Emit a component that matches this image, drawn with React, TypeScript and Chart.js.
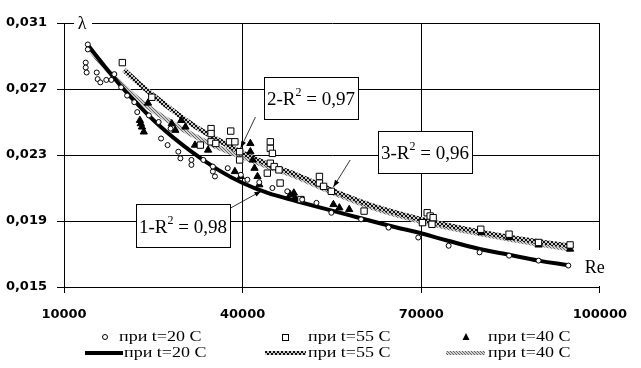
import React, { useEffect, useRef } from "react";
import { Chart, registerables } from "chart.js";

Chart.register(...registerables);

// ---------- tick labels ----------
const xTicks = [10000, 40000, 70000, 100000];
const yTicks = [0.015, 0.019, 0.023, 0.027, 0.031];

// ---------- measured points: t = 20 C (open circles) ----------
const re20 = [14000, 14000, 13650, 13650, 13800, 15500, 15650, 17100, 16100, 18450, 17950, 19600, 20600, 21800, 22300, 24250, 25900, 26300, 27400, 27900, 29200, 29550, 31400, 31400, 33400, 35000, 35350, 35000, 37500, 39700, 40800, 42800, 45000, 47500, 50000, 52400, 54900, 59900, 64500, 69500, 74600, 79800, 84750, 89700, 94700];
const lam20 = [0.0297, 0.0294, 0.0286, 0.0283, 0.028, 0.028, 0.0276, 0.02755, 0.0274, 0.0279, 0.02755, 0.0271, 0.0266, 0.0262, 0.0256, 0.0254, 0.025, 0.024, 0.0236, 0.0246, 0.0232, 0.0228, 0.0227, 0.0224, 0.0227, 0.022, 0.0217, 0.0223, 0.0222, 0.0218, 0.0215, 0.02135, 0.021, 0.0208, 0.0203, 0.0201, 0.0195, 0.0191, 0.0186, 0.018, 0.0175, 0.0171, 0.0169, 0.0166, 0.0163];

// ---------- measured points: t = 55 C (open squares) ----------
const re55 = [19800, 24750, 32900, 34700, 34700, 34700, 35500, 38000, 37800, 38700, 39500, 39500, 44650, 44650, 45000, 44650, 45300, 46100, 44150, 46300, 52900, 52900, 53600, 54900, 49800, 60400, 71000, 71500, 72000, 70200, 71800, 80000, 84750, 89700, 95000];
const lam55 = [0.0286, 0.0265, 0.0236, 0.0246, 0.0243, 0.0238, 0.0237, 0.02445, 0.0238, 0.0238, 0.0232, 0.0227, 0.0238, 0.0234, 0.0231, 0.0225, 0.0223, 0.0221, 0.0219, 0.0213, 0.0217, 0.0213, 0.0211, 0.0208, 0.0203, 0.0196, 0.0195, 0.0193, 0.0192, 0.0189, 0.0188, 0.0185, 0.0182, 0.0177, 0.01755];

// ---------- measured points: t = 40 C (filled triangles) ----------
const re40 = [24100, 22750, 23100, 23400, 22900, 28100, 29700, 30400, 28700, 32000, 34200, 38700, 39700, 41300, 41300, 41700, 42000, 42500, 42800, 48000, 48600, 48800, 55250, 56250, 57900, 80100, 84750, 89700, 95000];
const lam40 = [0.02615, 0.0251, 0.0247, 0.0244, 0.0249, 0.0249, 0.0251, 0.0247, 0.0245, 0.0236, 0.0233, 0.022, 0.0217, 0.0237, 0.0232, 0.0227, 0.0222, 0.0217, 0.0212, 0.0206, 0.0207, 0.0204, 0.02, 0.0198, 0.0197, 0.0183, 0.018, 0.01755, 0.0173];

// ---------- fitted curves ----------
const fitRe20 = [14000, 17600, 20900, 25900, 31400, 35900, 40000, 44200, 49100, 57400, 65700, 69500, 74500, 79800, 84750, 89700, 94700];
const fitLam20 = [0.02967, 0.02803, 0.02664, 0.02482, 0.0232, 0.0221, 0.0213, 0.0207, 0.0202, 0.0194, 0.01862, 0.0183, 0.0178, 0.0173, 0.01695, 0.0166, 0.01632];

const fitRe55 = [20100, 22900, 26200, 31400, 35900, 40000, 45000, 49100, 55700, 62400, 69700, 77300, 85600, 95000];
const fitLam55 = [0.02815, 0.02724, 0.02627, 0.02488, 0.02391, 0.02312, 0.02233, 0.02179, 0.02076, 0.01985, 0.01912, 0.01852, 0.01797, 0.01749];

const fitRe40 = [14000, 17600, 22600, 28400, 34200, 40000, 45000, 49100, 55700, 62400, 69700, 77300, 85600, 95000];
const fitLam40 = [0.02955, 0.02803, 0.02633, 0.02488, 0.02373, 0.02288, 0.02221, 0.02167, 0.02064, 0.01973, 0.019, 0.0184, 0.01785, 0.0173];

// ---------- labels ----------
const seriesLabels = ["при t=20 C", "при t=55 C", "при t=40 C"];
const boxNums = ["1", "2", "3"];
const boxR2 = ["0,98", "0,97", "0,96"];
// box extents in data units
const boxRe0 = [22100, 43650, 62700];
const boxRe1 = [37850, 59390, 78450];
const boxLamTop = [0.02003, 0.02773, 0.02445];
const boxLamBot = [0.01743, 0.02518, 0.02191];
// arrows from box to curve
const arrowRe0 = [37850, 42150, 58070];
const arrowLam0 = [0.01976, 0.0253, 0.0227];
const arrowRe1 = [43150, 39670, 55250];
const arrowLam1 = [0.02082, 0.02342, 0.02106];

const pts = (xs: number[], ys: number[]) => xs.map((v, i) => ({ x: v, y: ys[i] }));

function makePattern(ctx: CanvasRenderingContext2D, kind: string) {
  const c = document.createElement("canvas");
  if (kind === "ring") {
    c.width = 4;
    c.height = 4;
    const g = c.getContext("2d")!;
    g.fillStyle = "#c8c8c8";
    g.fillRect(0, 0, 4, 4);
    g.fillStyle = "#111";
    [[1, 0], [2, 0], [0, 1], [3, 1], [0, 2], [3, 2], [1, 3], [2, 3]].forEach(([a, b]) => g.fillRect(a, b, 1, 1));
  } else {
    c.width = 3;
    c.height = 3;
    const g = c.getContext("2d")!;
    g.fillStyle = "#cfcfcf";
    g.fillRect(0, 0, 3, 3);
    g.fillStyle = "#666";
    g.fillRect(0, 0, 1, 1);
    g.fillRect(1, 1, 1, 1);
    g.fillRect(2, 2, 1, 1);
  }
  return ctx.createPattern(c, "repeat")!;
}

const SERIF = '"Liberation Serif", "Times New Roman", serif';

export default function App() {
  const ref = useRef<HTMLCanvasElement>(null);

  useEffect(() => {
    const canvas = ref.current!;
    const cctx = canvas.getContext("2d")!;
    const ringPat = makePattern(cctx, "ring");
    const hatchPat = makePattern(cctx, "hatch");

    const drawMarker = (ctx: CanvasRenderingContext2D, kind: number, x: number, y: number) => {
      ctx.save();
      ctx.lineWidth = 1;
      ctx.strokeStyle = "#000";
      if (kind === 0) {
        ctx.fillStyle = "#fff";
        ctx.beginPath();
        ctx.arc(x, y, 2.5, 0, Math.PI * 2);
        ctx.fill();
        ctx.stroke();
      } else if (kind === 1) {
        ctx.fillStyle = "#fff";
        ctx.fillRect(x - 3, y - 3, 6, 6);
        ctx.strokeRect(Math.round(x - 3) + 0.5, Math.round(y - 3) + 0.5, 6, 6);
      } else {
        ctx.fillStyle = "#000";
        ctx.beginPath();
        ctx.moveTo(x, y - 4);
        ctx.lineTo(x + 3.5, y + 3);
        ctx.lineTo(x - 3.5, y + 3);
        ctx.closePath();
        ctx.fill();
      }
      ctx.restore();
    };

    const decor = {
      id: "decor",
      beforeDatasetsDraw(chart: any) {
        const { ctx, chartArea } = chart;
        ctx.save();
        ctx.fillStyle = "#fff";
        ctx.fillRect(chartArea.right - 3, chartArea.bottom - 37, 6, 36);
        ctx.fillRect(chartArea.left + 10, chartArea.top - 6, 18, 12);
        ctx.restore();
      },
      afterDatasetsDraw(chart: any) {
        const { ctx, chartArea } = chart;
        const xs = chart.scales.x;
        const ys = chart.scales.y;
        ctx.save();
        ctx.fillStyle = "#000";
        ctx.font = `18px ${SERIF}`;
        ctx.textAlign = "center";
        ctx.textBaseline = "middle";
        ctx.fillText("λ", chartArea.left + 18, chartArea.top + 1);
        ctx.fillText("Re", chartArea.right - 5, chartArea.bottom - 19);

        for (let i = 0; i < 3; i++) {
          const x0 = xs.getPixelForValue(arrowRe0[i]);
          const y0 = ys.getPixelForValue(arrowLam0[i]);
          const x1 = xs.getPixelForValue(arrowRe1[i]);
          const y1 = ys.getPixelForValue(arrowLam1[i]);
          ctx.strokeStyle = "#000";
          ctx.lineWidth = 0.8;
          ctx.beginPath();
          ctx.moveTo(x0, y0);
          ctx.lineTo(x1, y1);
          ctx.stroke();
          const ang = Math.atan2(y1 - y0, x1 - x0);
          ctx.fillStyle = "#000";
          ctx.beginPath();
          ctx.moveTo(x1, y1);
          ctx.lineTo(x1 - 7 * Math.cos(ang) + 2.5 * Math.sin(ang), y1 - 7 * Math.sin(ang) - 2.5 * Math.cos(ang));
          ctx.lineTo(x1 - 7 * Math.cos(ang) - 2.5 * Math.sin(ang), y1 - 7 * Math.sin(ang) + 2.5 * Math.cos(ang));
          ctx.closePath();
          ctx.fill();
        }

        for (let i = 0; i < 3; i++) {
          const l = Math.round(xs.getPixelForValue(boxRe0[i]));
          const r = Math.round(xs.getPixelForValue(boxRe1[i]));
          const t = Math.round(ys.getPixelForValue(boxLamTop[i]));
          const b = Math.round(ys.getPixelForValue(boxLamBot[i]));
          ctx.fillStyle = "#fff";
          ctx.fillRect(l, t, r - l, b - t);
          ctx.strokeStyle = "#000";
          ctx.lineWidth = 1;
          ctx.strokeRect(l + 0.5, t + 0.5, r - l, b - t);
          const p1 = boxNums[i] + "-R";
          const p3 = " = " + boxR2[i];
          ctx.textAlign = "left";
          ctx.textBaseline = "alphabetic";
          ctx.font = `19px ${SERIF}`;
          const w1 = ctx.measureText(p1).width;
          const w3 = ctx.measureText(p3).width;
          ctx.font = `12px ${SERIF}`;
          const w2 = ctx.measureText("2").width;
          const start = (l + r) / 2 - (w1 + w2 + w3) / 2;
          const base = (t + b) / 2 + 7;
          ctx.fillStyle = "#000";
          ctx.font = `19px ${SERIF}`;
          ctx.fillText(p1, start, base);
          ctx.fillText(p3, start + w1 + w2, base);
          ctx.font = `12px ${SERIF}`;
          ctx.fillText("2", start + w1, base - 9);
        }
        ctx.restore();
      },
      afterDraw(chart: any) {
        const { ctx } = chart;
        ctx.save();
        const markerX = [105, 285, 466];
        const text1X = [119, 308, 488];
        const lineX0 = [85, 265, 446];
        const lineX1 = [123, 306, 485];
        const text2X = [124, 308, 488];
        const row1 = 337;
        const row2 = 353;
        const strokes: any[] = ["#000", ringPat, hatchPat];
        ctx.textAlign = "left";
        ctx.textBaseline = "middle";
        for (let i = 0; i < 3; i++) {
          drawMarker(ctx, i, markerX[i], row1);
          ctx.save();
          ctx.strokeStyle = strokes[i];
          ctx.lineWidth = 4;
          ctx.beginPath();
          ctx.moveTo(lineX0[i], row2);
          ctx.lineTo(lineX1[i], row2);
          ctx.stroke();
          ctx.restore();
          ctx.font = `15px ${SERIF}`;
          ctx.fillStyle = "#000";
          for (const [tx, ty] of [[text1X[i], row1], [text2X[i], row2]]) {
            ctx.save();
            ctx.translate(tx, ty);
            ctx.scale(1.2, 1);
            ctx.fillText(seriesLabels[i], 0, 0);
            ctx.restore();
          }
        }
        ctx.restore();
      },
    };

    const chart = new Chart(canvas, {
      type: "scatter",
      data: {
        datasets: [
          {
            label: seriesLabels[0],
            data: pts(re20, lam20),
            pointStyle: "circle",
            pointRadius: 2.5,
            pointBackgroundColor: "#fff",
            pointBorderColor: "#000",
            pointBorderWidth: 1,
            showLine: false,
            order: 1,
          },
          {
            label: seriesLabels[1],
            data: pts(re55, lam55),
            pointStyle: "rect",
            pointRadius: 4.5,
            pointBackgroundColor: "#fff",
            pointBorderColor: "#000",
            pointBorderWidth: 1,
            showLine: false,
            order: 1,
          },
          {
            label: seriesLabels[2],
            data: pts(re40, lam40),
            pointStyle: "triangle",
            pointRadius: 4.2,
            pointBackgroundColor: "#000",
            pointBorderColor: "#000",
            pointBorderWidth: 1,
            showLine: false,
            order: 1,
          },
          {
            label: seriesLabels[0],
            data: pts(fitRe20, fitLam20),
            showLine: true,
            borderColor: "#000",
            borderWidth: 4,
            pointRadius: 0,
            tension: 0.4,
            order: 2,
          },
          {
            label: seriesLabels[1],
            data: pts(fitRe55, fitLam55),
            showLine: true,
            borderColor: ringPat as any,
            borderWidth: 5,
            pointRadius: 0,
            tension: 0.4,
            order: 3,
          },
          {
            label: seriesLabels[2],
            data: pts(fitRe40, fitLam40),
            showLine: true,
            borderColor: hatchPat as any,
            borderWidth: 5,
            pointRadius: 0,
            tension: 0.4,
            order: 4,
          },
        ],
      },
      options: {
        responsive: false,
        animation: false,
        devicePixelRatio: 1,
        layout: { padding: { top: 23, right: 34, left: 0, bottom: 0 } },
        plugins: { legend: { display: false }, tooltip: { enabled: false } },
        scales: {
          x: {
            type: "linear",
            min: xTicks[0],
            max: xTicks[xTicks.length - 1],
            afterBuildTicks: (s: any) => {
              s.ticks = xTicks.map((v) => ({ value: v }));
            },
            afterFit: (s: any) => {
              s.height = 81;
            },
            grid: { color: "#000", lineWidth: 1, drawTicks: true, tickLength: 6, tickColor: "#000" },
            border: { display: true, color: "#000", width: 1 },
            ticks: {
              color: "#000",
              padding: 14,
              maxRotation: 0,
              font: { family: '"DejaVu Sans", sans-serif', weight: "bold", size: 13 },
              callback: (v: any) => String(v),
            },
          },
          y: {
            type: "linear",
            min: yTicks[0],
            max: yTicks[yTicks.length - 1],
            afterBuildTicks: (s: any) => {
              s.ticks = yTicks.map((v) => ({ value: v }));
            },
            afterFit: (s: any) => {
              s.width = 64;
            },
            grid: { color: "#000", lineWidth: 1, drawTicks: true, tickLength: 7, tickColor: "#000" },
            border: { display: true, color: "#000", width: 1 },
            ticks: {
              color: "#000",
              padding: 10,
              font: { family: '"DejaVu Sans", sans-serif', weight: "bold", size: 13 },
              callback: (v: any) => Number(v).toFixed(3).replace(".", ","),
            },
          },
        },
      },
      plugins: [decor],
    } as any);

    return () => chart.destroy();
  }, []);

  return (
    <div style={{ position: "absolute", left: 0, top: 0, width: 641, height: 368, background: "#fff" }}>
      <canvas ref={ref} width={641} height={368} style={{ display: "block", width: 641, height: 368 }} />
    </div>
  );
}
